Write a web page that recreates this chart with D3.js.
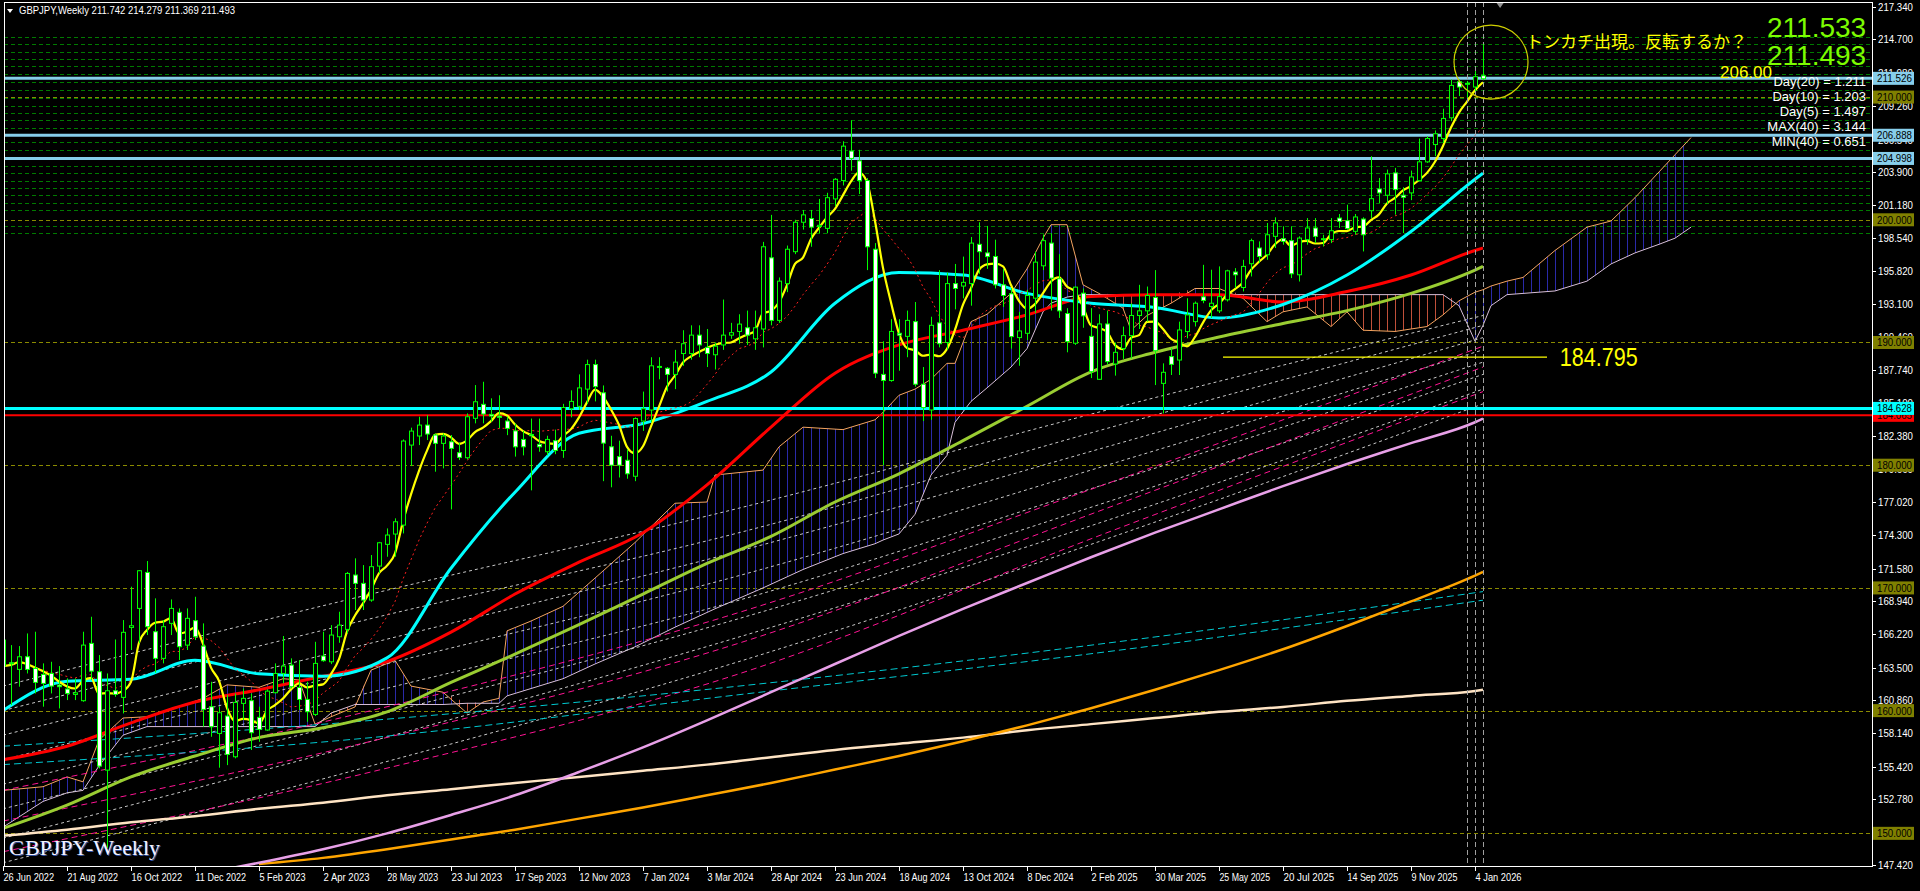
<!DOCTYPE html>
<html><head><meta charset="utf-8">
<script src="https://cdn.jsdelivr.net/npm/d3@7"></script>
<style>html,body{margin:0;padding:0;background:#000;overflow:hidden}svg{display:block}</style>
</head><body><svg id="c" width="1920" height="891"></svg>
<script>
// ---------------- DATA ----------------
const opens=[165.75,163.90,163.36,164.39,163.44,162.95,163.03,162.08,161.76,161.32,160.81,165.48,163.17,155.15,161.62,161.08,166.78,168.33,171.26,166.43,164.26,167.11,168.01,165.34,167.33,165.26,160.32,158.14,159.56,156.24,160.59,160.81,159.45,158.42,161.46,163.03,163.71,161.89,160.91,159.69,164.45,163.98,166.02,166.62,171.05,170.37,169.01,171.78,173.55,174.39,175.12,181.64,182.38,183.27,182.46,181.78,181.91,181.02,180.61,183.82,184.96,184.14,184.0,183.6,182.8,182.1,182.5,181.7,181.1,182.0,181.2,184.6,184.8,186.2,188.2,185.9,181.5,180.7,180.4,179.1,183.6,184.5,188.0,187.9,187.4,189.1,189.1,190.6,189.6,189.0,189.8,190.6,190.9,191.2,190.3,191.1,196.9,191.8,194.8,197.4,199.8,200.1,199.45,199.3,201.7,203.2,205.6,204.8,203.2,197.6,187.4,186.9,190.75,190.5,191.7,186.6,184.5,191.6,190.0,194.8,194.6,194.8,198.0,197.3,197.01,194.70,193.97,190.40,190.75,193.61,196.25,198.10,195.19,192.36,189.94,194.02,190.5,187.00,191.51,188.25,189.5,190.56,192.2,192.58,193.67,186.67,188.85,188.57,190.89,191.70,193.72,192.93,192.58,193.48,195.74,194.48,196.42,197.70,197.15,198.65,198.46,198.30,195.52,198.38,199.33,198.38,198.38,200.14,199.93,199.06,200.06,200.74,202.51,202.00,203.82,202.00,202.19,203.19,204.72,206.13,206.62,208.31,211.25,211.04,210.82,211.742];
const highs=[166.97,165.34,165.26,166.29,166.43,163.85,163.98,163.63,162.63,162.63,166.43,167.65,164.53,163.03,165.80,167.38,170.10,171.46,172.19,169.15,167.38,169.06,168.33,168.33,169.28,167.11,162.35,160.32,161.27,161.40,161.81,161.40,160.32,161.73,163.85,166.08,164.26,164.12,162.35,165.61,166.43,166.97,168.06,171.30,172.41,171.86,172.68,173.75,174.85,175.67,182.10,183.06,183.95,184.09,182.59,182.59,182.46,181.83,184.22,186.53,186.80,185.45,185.7,183.96,183.4,182.8,183.8,183.8,182.4,182.9,185.0,186.1,187.4,188.6,188.6,186.5,182.4,182.0,181.3,183.9,186.0,188.8,188.8,188.0,189.4,191.0,191.4,191.4,191.1,190.0,193.5,191.6,192.3,192.6,192.6,198.2,200.4,195.3,197.9,200.0,200.8,200.8,201.7,202.2,203.4,206.4,208.1,205.7,203.4,198.1,190.1,191.9,191.9,192.6,193.3,188.0,192.1,195.9,195.7,196.4,197.0,198.6,199.8,199.5,198.38,196.0,194.43,192.5,194.3,197.4,198.8,198.9,197.2,192.8,194.56,194.4,192.8,192.3,192.6,190.0,191.3,193.2,194.7,194.56,195.9,188.3,189.53,191.70,193.61,193.34,196.33,195.93,196.2,195.93,196.06,196.74,198.46,198.24,199.74,200.2,199.47,199.47,198.65,200.14,200.14,198.78,200.14,200.47,201.23,200.47,200.2,205.18,203.41,204.09,204.23,202.65,204.01,206.62,206.82,207.28,209.05,211.44,211.44,211.31,212.12,214.279];
const lows=[163.44,160.45,161.95,163.03,161.40,160.32,161.40,160.18,160.86,160.86,160.72,162.49,155.29,148.80,161.13,159.77,164.94,165.48,166.16,163.09,163.85,166.16,164.12,164.94,165.75,158.69,157.87,155.35,155.56,156.11,159.23,156.79,157.46,158.36,161.40,162.22,161.81,160.05,159.09,159.56,163.98,163.79,165.53,166.30,168.20,168.20,168.87,171.18,172.54,172.54,174.44,179.93,181.64,182.05,179.47,179.74,176.40,180.42,180.47,183.41,183.41,183.54,183.0,182.45,180.7,180.8,177.95,181.1,180.8,180.9,180.6,183.9,184.5,185.0,185.2,178.7,178.2,179.0,178.9,178.7,182.8,183.5,187.0,186.0,186.2,188.1,188.6,188.8,188.0,187.8,189.4,190.3,189.9,189.8,189.4,189.6,191.4,191.6,194.1,197.2,199.2,197.8,198.9,198.9,201.1,202.8,204.0,202.1,195.9,187.1,180.0,186.8,187.7,188.8,186.4,183.6,183.7,189.6,189.4,192.7,193.6,193.0,195.6,196.0,194.40,192.9,189.5,188.1,190.2,192.4,195.9,192.6,192.0,189.2,189.8,191.2,187.1,186.95,188.2,187.3,188.66,188.7,191.1,191.7,186.53,184.22,187.35,187.35,190.34,191.3,193.20,192.0,192.4,193.34,194.43,194.16,195.38,196.47,196.74,197.70,197.97,195.25,194.97,197.97,198.10,197.83,198.10,199.33,199.19,198.78,197.42,200.14,201.37,201.29,200.42,198.92,201.6,203.14,204.64,205.18,206.27,208.04,210.08,209.95,210.49,211.369];
const closes=[163.63,163.82,164.39,163.36,162.30,162.22,162.00,161.95,161.40,161.45,165.34,163.22,155.48,161.62,161.32,166.38,166.92,171.40,166.84,164.26,166.84,168.33,165.21,167.52,166.02,160.10,158.69,159.83,156.43,160.67,161.00,158.20,158.47,161.59,163.03,163.63,161.95,160.91,159.91,163.85,164.07,166.16,166.97,171.18,170.37,169.01,171.73,173.68,174.31,175.39,181.97,182.78,183.27,182.54,181.78,182.38,181.37,180.64,183.95,185.17,184.17,184.01,183.9,183.0,181.5,181.5,182.4,181.5,182.1,181.2,184.7,185.2,186.3,188.2,186.4,181.8,180.0,180.0,179.3,183.8,184.6,188.1,188.05,187.4,188.4,189.9,190.6,189.8,189.1,189.7,190.6,190.8,191.5,190.6,191.2,197.8,191.8,195.0,197.6,199.8,200.4,199.4,199.55,201.8,203.3,206.0,205.0,203.2,197.8,187.5,186.9,190.9,190.6,191.8,186.6,184.7,191.4,189.9,194.8,194.4,194.9,198.1,197.4,197.0,194.70,193.83,190.48,190.94,193.83,196.55,198.30,195.25,192.58,190.07,194.51,192.17,187.62,191.51,188.44,189.2,190.56,192.20,192.58,193.83,189.33,187.57,188.22,191.02,192.25,193.20,193.42,193.20,193.74,195.84,195.52,196.20,198.30,197.01,198.78,199.74,198.24,195.60,198.51,199.33,198.65,198.46,199.11,199.87,199.28,200.23,198.78,201.72,202.19,203.74,202.46,201.83,203.49,204.72,206.62,207.01,208.26,210.95,210.82,211.12,211.66,211.493];

const dateLabels=["26 Jun 2022","21 Aug 2022","16 Oct 2022","11 Dec 2022","5 Feb 2023","2 Apr 2023","28 May 2023","23 Jul 2023","17 Sep 2023","12 Nov 2023","7 Jan 2024","3 Mar 2024","28 Apr 2024","23 Jun 2024","18 Aug 2024","13 Oct 2024","8 Dec 2024","2 Feb 2025","30 Mar 2025","25 May 2025","20 Jul 2025","14 Sep 2025","9 Nov 2025","4 Jan 2026"];
const priceTicks=[217.34,214.70,211.98,209.26,206.54,203.90,201.18,198.54,195.82,193.10,190.46,187.74,185.10,182.38,179.66,177.02,174.30,171.58,168.94,166.22,163.50,160.86,158.14,155.42,152.78,150.06,147.42];

// slow moving averages, at these bar indices
const sampleBars=[0,8,16,24,32,40,48,56,64,72,80,88,96,104,112,120,128,136,144,152,160,168,176,184,185];
const cyanMA=[160.0,162.4,162.55,164.1,163.0,162.8,164.3,171.6,177.8,182.6,183.4,185.2,187.6,193.2,195.7,195.5,194.0,193.2,192.85,192.0,193.1,195.5,199.05,203.3,203.8];
const redMA=[156.0,157.1,159.0,160.7,161.7,162.8,164.0,166.4,169.5,172.1,174.5,178.4,183.1,187.5,189.8,191.0,192.25,193.75,193.9,193.9,193.3,194.15,195.5,197.5,197.7];
const greenMA=[150.4,152.3,154.6,156.3,157.8,158.6,159.9,162.3,164.6,167.0,169.5,172.0,174.2,177.0,179.3,182.0,184.8,187.6,189.2,190.45,191.55,192.6,194.0,195.9,196.2];
const violetMA=[null,null,null,146.6,147.6,148.7,150.0,151.5,153.1,155.0,157.0,159.2,161.5,163.8,166.1,168.3,170.4,172.5,174.5,176.4,178.3,180.1,181.8,183.5,183.8];
const orangeMA=[null,null,null,null,147.5,148.0,148.7,149.5,150.3,151.2,152.1,153.1,154.1,155.2,156.3,157.5,158.8,160.2,161.7,163.3,165.0,166.9,168.9,171.0,171.3];
const creamMA=[149.8,150.3,150.9,151.4,152.0,152.5,153.1,153.6,154.1,154.6,155.1,155.6,156.2,156.8,157.3,157.8,158.4,158.9,159.4,159.9,160.3,160.8,161.2,161.6,161.7];

// long dashed averages, read at these bars
const fanBars=[0,46,92,138,185];
const grayDashed=[
 [162.0,169.5,176.5,184.5,192.2],
 [160.0,167.5,174.5,183.0,191.4],
 [158.0,165.5,173.0,181.5,190.4],
 [156.0,163.5,171.0,180.0,189.4],
 [154.0,161.5,169.0,178.5,188.4],
 [152.0,159.5,167.5,177.0,187.4],
 [149.6,157.5,166.0,175.5,186.2],
 [147.6,155.5,164.0,174.0,185.0]];
const pinkDashed=[
 [153.5,160.0,168.0,178.5,189.7],
 [151.0,157.5,165.5,176.5,188.0],
 [148.5,155.0,163.0,174.5,186.0]];
const cyanDashed=[
 [157.1,159.2,162.0,165.5,169.7],
 [155.6,157.8,161.3,164.8,169.0]];

// Ichimoku cloud (shifted 26 bars forward)
const cloudBars=[0,5,8,10,12,15,18,22,25,28,32,35,37,39,41,44,46,49,51,55,58,60,62,63,66,70,74,79,84,88,89,95,97,100,105,109,110,112,114,116,118,119,121,123,126,128,130,131,133,135,137,140,141,143,146,149,152,155,158,160,163,166,168,170,174,178,180,182,184,185,186,188,190,194,198,201,204,207,209,211];
const spanA=[153.5,153.8,154.6,154.2,157.6,159.4,159.5,160.3,161.0,162.1,161.9,162.6,162.5,158.9,159.5,160.3,163.3,164.1,162.0,161.5,159.8,160.7,161.0,166.5,167.3,168.5,170.8,173.7,176.9,177.0,179.2,179.6,181.5,183.1,182.9,183.7,184.3,185.7,186.2,187.0,188.3,188.3,191.7,192.3,194.0,196.0,198.5,199.6,199.6,194.7,194.0,192.8,191.0,192.2,193.2,194.4,194.4,193.6,191.7,192.5,192.9,191.3,192.5,191.0,190.9,191.3,192.25,193.4,194.1,194.3,194.6,195.0,195.3,197.5,199.4,199.9,201.8,203.9,205.3,206.7];
const spanB=[150.5,152.6,153.3,153.5,155.5,158.0,158.7,158.7,158.7,158.7,158.7,158.7,158.7,158.7,159.8,160.5,160.5,160.5,160.5,160.5,160.6,160.6,160.6,161.2,161.8,162.6,163.8,165.2,166.8,168.0,168.3,170.0,170.6,171.5,172.8,173.6,173.9,174.4,176.0,179.2,180.8,183.5,185.2,186.3,188.0,189.5,192.5,193.2,193.7,193.9,193.9,193.9,193.9,193.9,193.9,193.9,193.9,193.9,193.9,193.9,193.9,193.9,193.9,193.9,193.9,193.9,193.9,193.0,190.1,191.4,193.0,193.9,194.0,194.2,195.0,196.4,197.3,198.0,198.5,199.4];

// horizontal levels
const blueLevels=[211.526,206.888,204.998];
const roundLevels=[210,200,190,180,170,160,150];
const greenGrid=[214.9,214.3,213.7,213.1,212.5,211.9,211.2,210.6,209.9,209.3,208.7,208.1,207.5,206.3,205.7,204.4,203.8,203.2,202.6,202.0,201.4,200.8,199.5,198.9];
const supportLevel=184.628, redLevel=184.065;
const markerBars=[183,184,185];
const statLines=["Day(20) = 1.211","Day(10) = 1.203","Day(5) = 1.497","MAX(40) = 3.144","MIN(40) = 0.651"];

// ---------------- DRAW ----------------
const svg=d3.select('#c');
const PL=4,PR=1872,PT=2,PB=866;
const FONT='Liberation Sans, Arial, sans-serif';
const x=d3.scaleLinear().domain([0,185]).range([3,1483]);
const y=d3.scaleLinear().domain([147.42,217.34]).range([865,7]);
svg.append('rect').attr('width',1920).attr('height',891).attr('fill','#000');
const defs=svg.append('defs');
defs.append('clipPath').attr('id','clip').append('rect').attr('x',PL+1).attr('y',PT+1).attr('width',PR-PL-1).attr('height',PB-PT-1);
function hatch(id,col){const p=defs.append('pattern').attr('id',id).attr('patternUnits','userSpaceOnUse').attr('x',x(0)-4).attr('y',0).attr('width',8).attr('height',8);
 p.append('rect').attr('x',4).attr('y',0).attr('width',1).attr('height',8).attr('fill',col);}
hatch('hb','#2a2aa8');hatch('hr','#c0503a');
const g=svg.append('g').attr('clip-path','url(#clip)');

// green dashed grid
g.selectAll('.gg').data(greenGrid).enter().append('line').attr('x1',PL).attr('x2',PR).attr('y1',d=>Math.round(y(d))+0.5).attr('y2',d=>Math.round(y(d))+0.5).attr('stroke','#007a00').attr('stroke-dasharray','4,3');
// round levels
g.selectAll('.rl').data(roundLevels).enter().append('line').attr('x1',PL).attr('x2',PR).attr('y1',d=>Math.round(y(d))+0.5).attr('y2',d=>Math.round(y(d))+0.5).attr('stroke','#8a8a00').attr('stroke-dasharray','4,3');

// cloud
const cloud=cloudBars.map((b,i)=>({b,a:spanA[i],c:spanB[i]}));
g.append('path').datum(cloud).attr('fill','url(#hb)').attr('d',d3.area().x(d=>x(d.b)).y0(d=>y(d.c)).y1(d=>y(Math.max(d.a,d.c))));
g.append('path').datum(cloud).attr('fill','url(#hr)').attr('d',d3.area().x(d=>x(d.b)).y0(d=>y(d.a)).y1(d=>y(Math.max(d.a,d.c))));
g.append('path').datum(cloud).attr('fill','none').attr('stroke','#f4a460').attr('d',d3.line().x(d=>x(d.b)).y(d=>y(d.a)));
g.append('path').datum(cloud).attr('fill','none').attr('stroke','#d8bfd8').attr('d',d3.line().x(d=>x(d.b)).y(d=>y(d.c)));

// dashed long averages
function dashed(arr,col,dash){arr.forEach(vals=>{g.append('path').datum(fanBars.map((b,i)=>[b,vals[i]])).attr('fill','none').attr('stroke',col).attr('stroke-width',1).attr('stroke-dasharray',dash).attr('d',d3.line().curve(d3.curveMonotoneX).x(d=>x(d[0])).y(d=>y(d[1])));});}
dashed(grayDashed,'#c8c8c8','3,3');
dashed(pinkDashed,'#ff1493','6,4');
dashed(cyanDashed,'#00c8d0','7,4');

// slow solid averages
function sampled(vals,col,w){g.append('path').datum(sampleBars.map((b,i)=>[b,vals[i]])).attr('fill','none').attr('stroke',col).attr('stroke-width',w).attr('d',d3.line().defined(d=>d[1]!=null).curve(d3.curveMonotoneX).x(d=>x(d[0])).y(d=>y(d[1])));}
sampled(creamMA,'#ffe4c4',2.5);
sampled(orangeMA,'#ffa500',2.5);
sampled(violetMA,'#e8a0e8',2.5);
sampled(greenMA,'#9acd32',3);
sampled(redMA,'#ff0000',3);
sampled(cyanMA,'#00ffff',3);

// level lines
g.append('line').attr('x1',PL).attr('x2',PR).attr('y1',y(redLevel)).attr('y2',y(redLevel)).attr('stroke','#ff0000').attr('stroke-width',2);
g.append('line').attr('x1',PL).attr('x2',PR).attr('y1',y(supportLevel)).attr('y2',y(supportLevel)).attr('stroke','#00ffff').attr('stroke-width',3);
g.selectAll('.bl').data(blueLevels).enter().append('line').attr('x1',PL).attr('x2',PR).attr('y1',d=>y(d)).attr('y2',d=>y(d)).attr('stroke','#87ceeb').attr('stroke-width',3);

// short moving averages built from closes
function sma(n){return closes.map((c,i)=>d3.mean(closes.slice(Math.max(0,i-n+1),i+1)));}
g.append('path').datum(sma(12)).attr('fill','none').attr('stroke','#ff2020').attr('stroke-width',1).attr('stroke-dasharray','2,3').attr('d',d3.line().x((d,i)=>x(i)).y(d=>y(d)));
g.append('path').datum(sma(5)).attr('fill','none').attr('stroke','#ffff00').attr('stroke-width',2.2).attr('d',d3.line().curve(d3.curveMonotoneX).x((d,i)=>x(i)).y(d=>y(d)));

// marker verticals
g.selectAll('.mk').data(markerBars).enter().append('line').attr('x1',d=>x(d)+0.5).attr('x2',d=>x(d)+0.5).attr('y1',PT).attr('y2',PB).attr('stroke','#a0a0a0').attr('stroke-dasharray','5,3');

// candles
const idx=d3.range(closes.length);
g.selectAll('.wk').data(idx).enter().append('line').attr('x1',i=>x(i)+0.5).attr('x2',i=>x(i)+0.5).attr('y1',i=>y(highs[i])).attr('y2',i=>y(lows[i])).attr('stroke','#00ff00');
g.selectAll('.bd').data(idx).enter().append('rect').attr('x',i=>x(i)-1.5).attr('width',4)
 .attr('y',i=>y(Math.max(opens[i],closes[i]))).attr('height',i=>Math.max(1,Math.abs(y(opens[i])-y(closes[i]))))
 .attr('fill',i=>closes[i]<opens[i]?'#ffffff':'#000000').attr('stroke','#00ff00').attr('stroke-width',1);

// annotations
g.append('circle').attr('cx',x(186)).attr('cy',y(212.85)).attr('r',37).attr('fill','none').attr('stroke','#d0d000').attr('stroke-width',1.2);
g.append('line').attr('x1',x(152.5)).attr('x2',x(193)).attr('y1',y(188.8)).attr('y2',y(188.8)).attr('stroke','#ffff00').attr('stroke-width',1.2);
g.append('text').attr('x',x(194.6)).attr('y',y(188.8)+9).attr('fill','#ffff00').attr('font-family',FONT).attr('font-size',25).attr('textLength',78).attr('lengthAdjust','spacingAndGlyphs').text('184.795');
g.append('text').attr('x',1526).attr('y',48).attr('fill','#ffff00').attr('font-family','Noto Sans CJK JP').attr('font-size',17).text('トンカチ出現。反転するか？');
g.append('text').attr('x',1720).attr('y',78).attr('fill','#ffff00').attr('font-family',FONT).attr('font-size',17).text('206.00');
g.append('text').attr('x',1767).attr('y',37).attr('fill','#7cfc00').attr('font-family',FONT).attr('font-size',28).text('211.533');
g.append('text').attr('x',1767).attr('y',65).attr('fill','#7cfc00').attr('font-family',FONT).attr('font-size',28).text('211.493');
g.selectAll('.st').data(statLines).enter().append('text').attr('x',1866).attr('y',(d,i)=>86+i*15).attr('text-anchor','end').attr('fill','#ffffff').attr('font-family',FONT).attr('font-size',13).text(d=>d);
svg.append('path').attr('d',`M${x(186.7)},3 l7,0 l-3.5,5 z`).attr('fill','#909090');

// frame
svg.append('rect').attr('x',PL+0.5).attr('y',PT+0.5).attr('width',PR-PL).attr('height',PB-PT).attr('fill','none').attr('stroke','#ffffff');

// header
svg.append('path').attr('d','M7,9 l6,0 l-3,4 z').attr('fill','#fff');
svg.append('text').attr('x',19).attr('y',14).attr('fill','#fff').attr('font-family',FONT).attr('font-size',11).attr('textLength',216).attr('lengthAdjust','spacingAndGlyphs').text('GBPJPY,Weekly  211.742 214.279 211.369 211.493');

// GBPJPY-Weekly label
svg.append('text').attr('x',10).attr('y',856).attr('fill','#3050a0').attr('font-family','Liberation Serif, Times New Roman, serif').attr('font-size',22).text('GBPJPY-Weekly');
svg.append('text').attr('x',9).attr('y',855).attr('fill','#f4f4ff').attr('font-family','Liberation Serif, Times New Roman, serif').attr('font-size',22).text('GBPJPY-Weekly');

// right axis
const ax=svg.append('g');
ax.selectAll('.tk').data(priceTicks).enter().append('line').attr('x1',PR).attr('x2',PR+4).attr('y1',d=>Math.round(y(d))+0.5).attr('y2',d=>Math.round(y(d))+0.5).attr('stroke','#fff');
ax.selectAll('.tl').data(priceTicks).enter().append('text').attr('x',PR+6).attr('y',d=>y(d)+4).attr('fill','#fff').attr('font-family',FONT).attr('font-size',11).attr('textLength',35).attr('lengthAdjust','spacingAndGlyphs').text(d=>d.toFixed(3));
const boxes=[...roundLevels.map(v=>({v,bg:'#808000'})),{v:redLevel,bg:'#ff0000'},{v:supportLevel,bg:'#00ffff'},...blueLevels.map(v=>({v,bg:'#87ceeb'}))];
boxes.forEach(b=>{ax.append('rect').attr('x',PR+1).attr('y',y(b.v)-6.5).attr('width',41).attr('height',13).attr('fill',b.bg);
 ax.append('text').attr('x',PR+5).attr('y',y(b.v)+4).attr('fill','#000').attr('font-family',FONT).attr('font-size',11).attr('textLength',35).attr('lengthAdjust','spacingAndGlyphs').text(b.v.toFixed(3));});

// bottom axis
const bx=svg.append('g');
dateLabels.forEach((t,k)=>{const xx=Math.round(x(k*8))+0.5;
 bx.append('line').attr('x1',xx).attr('x2',xx).attr('y1',PB).attr('y2',PB+5).attr('stroke','#fff');
 bx.append('text').attr('x',xx).attr('y',881).attr('fill','#fff').attr('font-family',FONT).attr('font-size',11).attr('textLength',t.length*4.6).attr('lengthAdjust','spacingAndGlyphs').text(t);});
</script></body></html>
